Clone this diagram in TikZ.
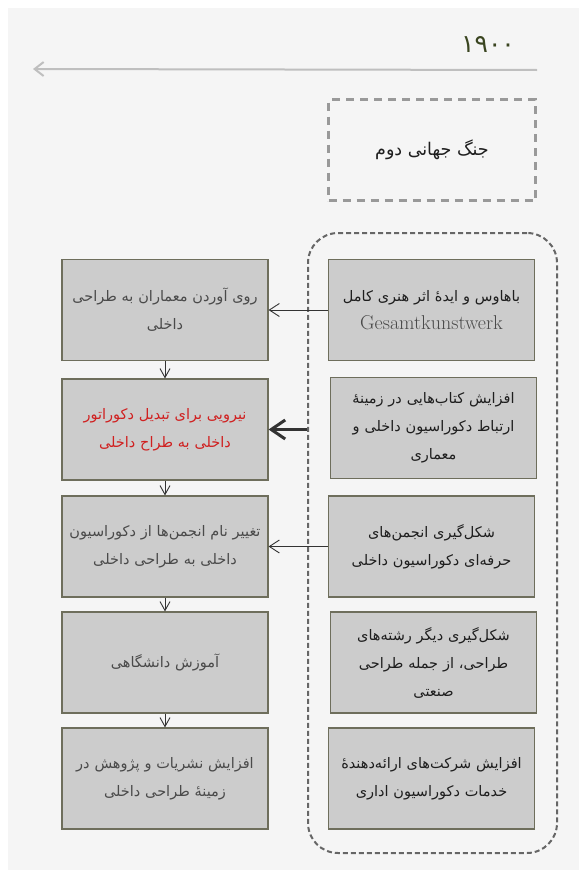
\documentclass[tikz,border=0pt]{standalone}
\usepackage{fontspec}
\usetikzlibrary{arrows.meta}
\TeXXeTstate=1
\newfontfamily\arabicfont[Script=Arabic]{DejaVu Sans}
\newcommand{\fa}[1]{\beginR #1\endR}
\definecolor{pageGrey}{HTML}{F5F5F5}
\definecolor{boxFill}{HTML}{CCCCCC}
\definecolor{boxEdge}{HTML}{6E6E5C}
\definecolor{textGrey}{HTML}{4A4A4A}
\definecolor{textDark}{HTML}{1E1E1E}
\definecolor{redText}{HTML}{D02020}
\definecolor{yearGreen}{HTML}{3A4520}
\tikzset{
  eventBox/.style={draw=boxEdge, fill=boxFill, line width=1.1pt, text width=206pt,
    minimum height=101pt, inner sep=0pt, align=center,
    font=\arabicfont\fontsize{14.5}{28}\selectfont},
  effectBox/.style={eventBox, text=textGrey},
  causeBox/.style={eventBox, text=textDark},
  thinArrow/.style={draw=black!80, line width=0.9pt, -{Straight Barb[length=10pt,width=13pt]}},
  thickArrow/.style={draw=black!80, line width=3pt, -{Straight Barb[length=14pt,width=19pt]}},
  downArrow/.style={draw=black!80, line width=0.9pt, -{Straight Barb[length=9pt,width=10pt]}}
}
\begin{document}
\begin{tikzpicture}[x=1pt, y=-1pt]
  \useasboundingbox (0,0) rectangle (579,870);
  \fill[white] (0,0) rectangle (579,870);
  \fill[pageGrey] (8,8) rectangle (579,870);
  % timeline
  \node[text=yearGreen, font=\arabicfont\fontsize{25}{25}\selectfont] (yearLabel) at (488,45) {۱۹۰۰};
  \coordinate (timeStart) at (537,70);
  \coordinate (timeEnd) at (33,69);
  \draw[draw=black!25, line width=2pt, -{Straight Barb[length=9pt,width=14pt]}] (timeStart) -- (timeEnd);
  \node[draw=black!40, dash pattern=on 8pt off 6pt, line width=2.2pt, minimum width=207pt,
    minimum height=101pt, text=textDark, font=\arabicfont\fontsize{17.5}{20}\selectfont]
    (worldWar) at (432,150) {\fa{جنگ جهانی دوم}};
  % causes
  \node[draw=black!60, dash pattern=on 5pt off 3pt, line width=2pt, rounded corners=30pt,
    minimum width=249pt, minimum height=620pt] (factorGroup) at (432.5,543) {};
  \node[causeBox] (bauhaus) at (431.5,310) {\fa{باهاوس و ایدهٔ اثر هنری کامل}\\{\rmfamily\fontsize{20}{28}\selectfont\color{textGrey}Gesamtkunstwerk}};
  \node[causeBox] (books) at (433.5,428) {\fa{افزایش کتاب‌هایی در زمینهٔ}\\\fa{ارتباط دکوراسیون داخلی و}\\\fa{معماری}};
  \node[causeBox] (societies) at (431.5,546.5) {\fa{شکل‌گیری انجمن‌های}\\\fa{حرفه‌ای دکوراسیون داخلی}};
  \node[causeBox] (otherFields) at (433.5,662.5) {\fa{شکل‌گیری دیگر رشته‌های}\\\fa{طراحی، از جمله طراحی}\\\fa{صنعتی}};
  \node[causeBox] (officeFirms) at (431.5,778.5) {\fa{افزایش شرکت‌های ارائه‌دهندهٔ}\\\fa{خدمات دکوراسیون اداری}};
  % effects
  \node[effectBox] (architectsTurn) at (165,310) {\fa{روی آوردن معماران به طراحی}\\\fa{داخلی}};
  \node[effectBox, text=redText] (decoratorForce) at (165,429.5) {\fa{نیرویی برای تبدیل دکوراتور}\\\fa{داخلی به طراح داخلی}};
  \node[effectBox] (renameSocieties) at (165,546.5) {\fa{تغییر نام انجمن‌ها از دکوراسیون}\\\fa{داخلی به طراحی داخلی}};
  \node[effectBox] (universityEdu) at (165,662.5) {\fa{آموزش دانشگاهی}};
  \node[effectBox] (publications) at (165,778.5) {\fa{افزایش نشریات و پژوهش در}\\\fa{زمینهٔ طراحی داخلی}};
  \draw[thinArrow] (bauhaus.west) -- (architectsTurn.east);
  \draw[thickArrow] (factorGroup.west |- decoratorForce.east) -- (decoratorForce.east);
  \draw[thinArrow] (societies.west) -- (renameSocieties.east);
  \foreach \upper/\lower in {architectsTurn/decoratorForce, decoratorForce/renameSocieties,
    renameSocieties/universityEdu, universityEdu/publications}
    \draw[downArrow] (\upper.south) -- (\lower.north);
\end{tikzpicture}
\end{document}
